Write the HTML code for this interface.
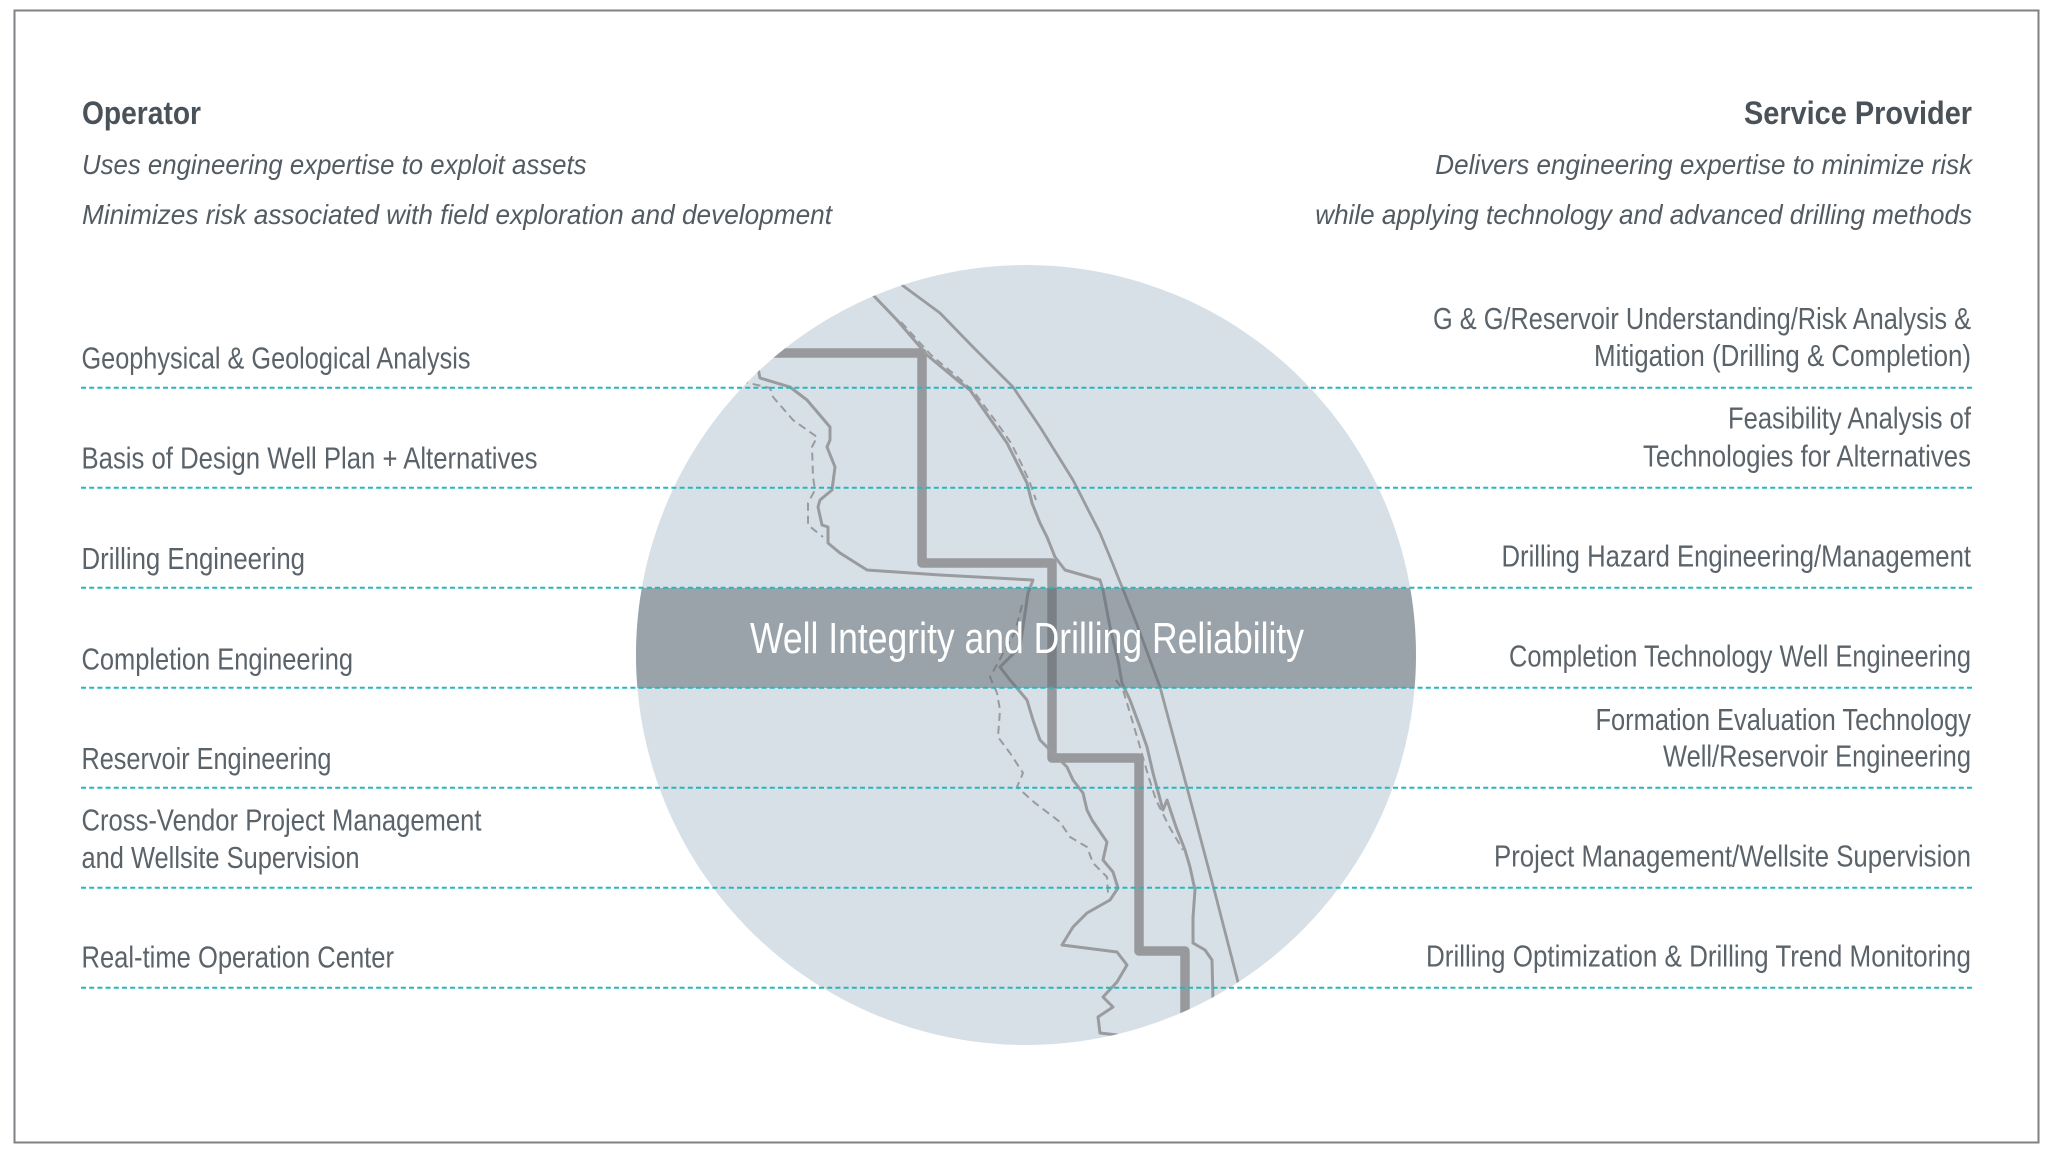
<!DOCTYPE html>
<html>
<head>
<meta charset="utf-8">
<style>
html,body{margin:0;padding:0;background:#fff;}
svg{display:block;}
text{font-family:"Liberation Sans",Arial,sans-serif;}
</style>
</head>
<body>
<svg xmlns="http://www.w3.org/2000/svg" width="2050" height="1153" viewBox="0 0 2050 1153">
  <rect x="0" y="0" width="2050" height="1153" fill="#ffffff"/>
  <rect x="14.5" y="10.5" width="2024" height="1132" fill="none" stroke="#7d8387" stroke-width="2"/>
  <defs>
    <clipPath id="cc"><circle cx="1026" cy="655" r="390"/></clipPath>
  </defs>
  <circle cx="1026" cy="655" r="390" fill="#d8e0e7"/>
  <g clip-path="url(#cc)" fill="none" stroke-linejoin="round" stroke-linecap="butt">
    <!-- thick stepped line -->
    <path d="M 740 353 H 922 V 563 H 1052 V 758 H 1139 V 951 H 1185 V 1060" stroke="#98999d" stroke-width="9.5"/>
    <!-- outer curve -->
    <polyline points="880,268 902,285 940,313 973,347 1013,387 1040,427 1073,480 1100,533 1112,562 1136,622 1160,687 1193,810 1215,893 1238,982 1250,1030" stroke="#9a9b9f" stroke-width="2.8"/>
    <!-- inner solid -->
    <polyline points="855,275 873,295 897,320 927,355 957,380 970,390 993,423 1007,443 1017,463 1027,483 1032,503 1040,523 1047,537 1055,557 1065,570 1100,580 1103,590 1110,627 1118,660 1122,683 1130,700 1140,727 1147,747 1153,773 1163,810 1167,800 1176,827 1185,850 1190,867 1195,890 1193,917 1193,943 1205,950 1212,960 1213,1000 1214,1040" stroke="#9a9b9f" stroke-width="3"/>
    <!-- inner dashed -->
    <polyline points="901,322 931,355 961,380 974,392 997,423 1011,443 1021,463 1030,483 1036,500" stroke="#9a9b9f" stroke-width="2" stroke-dasharray="8 5"/>
    <polyline points="1116,680 1123,690 1130,713 1140,747 1148,775 1156,800 1170,828 1183,850" stroke="#9a9b9f" stroke-width="2" stroke-dasharray="8 5"/>
    <!-- left solid -->
    <polyline points="750,362 758,368 760,378 790,387 807,400 830,427 830,440 827,447 835,467 832,490 820,500 818,507 822,525 828,527 828,543 840,553 867,570 940,575 1033,580 1028,593 1023,627 1020,647 1000,667 1010,680 1027,700 1033,720 1040,740 1050,750 1067,767 1073,780 1083,793 1087,810 1092,820 1107,842 1103,860 1113,872 1118,888 1110,900 1087,913 1073,927 1062,945 1117,952 1127,965 1117,982 1103,997 1113,1007 1098,1017 1100,1033 1117,1035 1130,1040" stroke="#9a9b9f" stroke-width="3"/>
    <!-- left dashed -->
    <polyline points="740,381 770,388 773,397 793,420 817,437 812,447 813,477 815,490 808,503 808,525 823,537" stroke="#9a9b9f" stroke-width="2" stroke-dasharray="8 5"/>
    <polyline points="1022,605 1015,632 1005,650 990,677 997,693 1000,710 998,737 1010,753 1023,773 1017,787 1035,803 1060,822 1070,837 1087,847 1093,863 1107,877 1108,893" stroke="#9a9b9f" stroke-width="2" stroke-dasharray="8 5"/>
    <!-- band -->
    <rect x="600" y="588" width="860" height="100" fill="#5e686f" fill-opacity="0.51" stroke="none"/>
  </g>
  <text x="750" y="653" font-size="44" fill="#ffffff" textLength="554" lengthAdjust="spacingAndGlyphs">Well Integrity and Drilling Reliability</text>

  <!-- teal dashed lines -->
  <g stroke="#25b7bd" stroke-width="2" stroke-dasharray="5 3.2" fill="none">
    <line x1="81" y1="387.7" x2="1972" y2="387.7"/>
    <line x1="81" y1="487.7" x2="1972" y2="487.7"/>
    <line x1="81" y1="587.7" x2="1972" y2="587.7"/>
    <line x1="81" y1="687.7" x2="1972" y2="687.7"/>
    <line x1="81" y1="787.7" x2="1972" y2="787.7"/>
    <line x1="81" y1="887.7" x2="1972" y2="887.7"/>
    <line x1="81" y1="987.7" x2="1972" y2="987.7"/>
  </g>

  <!-- headers -->
  <text x="82" y="124" font-size="32" font-weight="bold" fill="#4a5259" textLength="119" lengthAdjust="spacingAndGlyphs">Operator</text>
  <text x="82" y="174" font-size="28" font-style="italic" fill="#535b62" textLength="504.5" lengthAdjust="spacingAndGlyphs">Uses engineering expertise to exploit assets</text>
  <text x="82" y="224" font-size="28" font-style="italic" fill="#535b62" textLength="750" lengthAdjust="spacingAndGlyphs">Minimizes risk associated with field exploration and development</text>

  <text x="1744" y="124" font-size="32" font-weight="bold" fill="#4a5259" textLength="228" lengthAdjust="spacingAndGlyphs">Service Provider</text>
  <text x="1435.3" y="174" font-size="28" font-style="italic" fill="#535b62" textLength="536.7" lengthAdjust="spacingAndGlyphs">Delivers engineering expertise to minimize risk</text>
  <text x="1315.3" y="224" font-size="28" font-style="italic" fill="#535b62" textLength="656.7" lengthAdjust="spacingAndGlyphs">while applying technology and advanced drilling methods</text>

  <!-- left items -->
  <g font-size="30.5" fill="#5b636a">
    <text x="81.5" y="368.5" textLength="389" lengthAdjust="spacingAndGlyphs">Geophysical &amp; Geological Analysis</text>
    <text x="81.5" y="468.5" textLength="456" lengthAdjust="spacingAndGlyphs">Basis of Design Well Plan + Alternatives</text>
    <text x="81.5" y="569" textLength="223.5" lengthAdjust="spacingAndGlyphs">Drilling Engineering</text>
    <text x="81.5" y="669.5" textLength="271.5" lengthAdjust="spacingAndGlyphs">Completion Engineering</text>
    <text x="81.5" y="769" textLength="250" lengthAdjust="spacingAndGlyphs">Reservoir Engineering</text>
    <text x="81.5" y="830.7" textLength="400" lengthAdjust="spacingAndGlyphs">Cross-Vendor Project Management</text>
    <text x="81.5" y="868" textLength="278" lengthAdjust="spacingAndGlyphs">and Wellsite Supervision</text>
    <text x="81.5" y="967.7" textLength="312.5" lengthAdjust="spacingAndGlyphs">Real-time Operation Center</text>
  </g>

  <!-- right items -->
  <g font-size="30.5" fill="#5b636a">
    <text x="1433" y="329" textLength="538" lengthAdjust="spacingAndGlyphs">G &amp; G/Reservoir Understanding/Risk Analysis &amp;</text>
    <text x="1594" y="366" textLength="377" lengthAdjust="spacingAndGlyphs">Mitigation (Drilling &amp; Completion)</text>
    <text x="1728" y="428.3" textLength="243" lengthAdjust="spacingAndGlyphs">Feasibility Analysis of</text>
    <text x="1643" y="466.5" textLength="328" lengthAdjust="spacingAndGlyphs">Technologies for Alternatives</text>
    <text x="1501.5" y="566.7" textLength="469.5" lengthAdjust="spacingAndGlyphs">Drilling Hazard Engineering/Management</text>
    <text x="1509" y="666.7" textLength="462" lengthAdjust="spacingAndGlyphs">Completion Technology Well Engineering</text>
    <text x="1595.5" y="730" textLength="375.5" lengthAdjust="spacingAndGlyphs">Formation Evaluation Technology</text>
    <text x="1663" y="766.7" textLength="308" lengthAdjust="spacingAndGlyphs">Well/Reservoir Engineering</text>
    <text x="1494" y="866.7" textLength="477" lengthAdjust="spacingAndGlyphs">Project Management/Wellsite Supervision</text>
    <text x="1426" y="966.7" textLength="545" lengthAdjust="spacingAndGlyphs">Drilling Optimization &amp; Drilling Trend Monitoring</text>
  </g>
</svg>
</body>
</html>
